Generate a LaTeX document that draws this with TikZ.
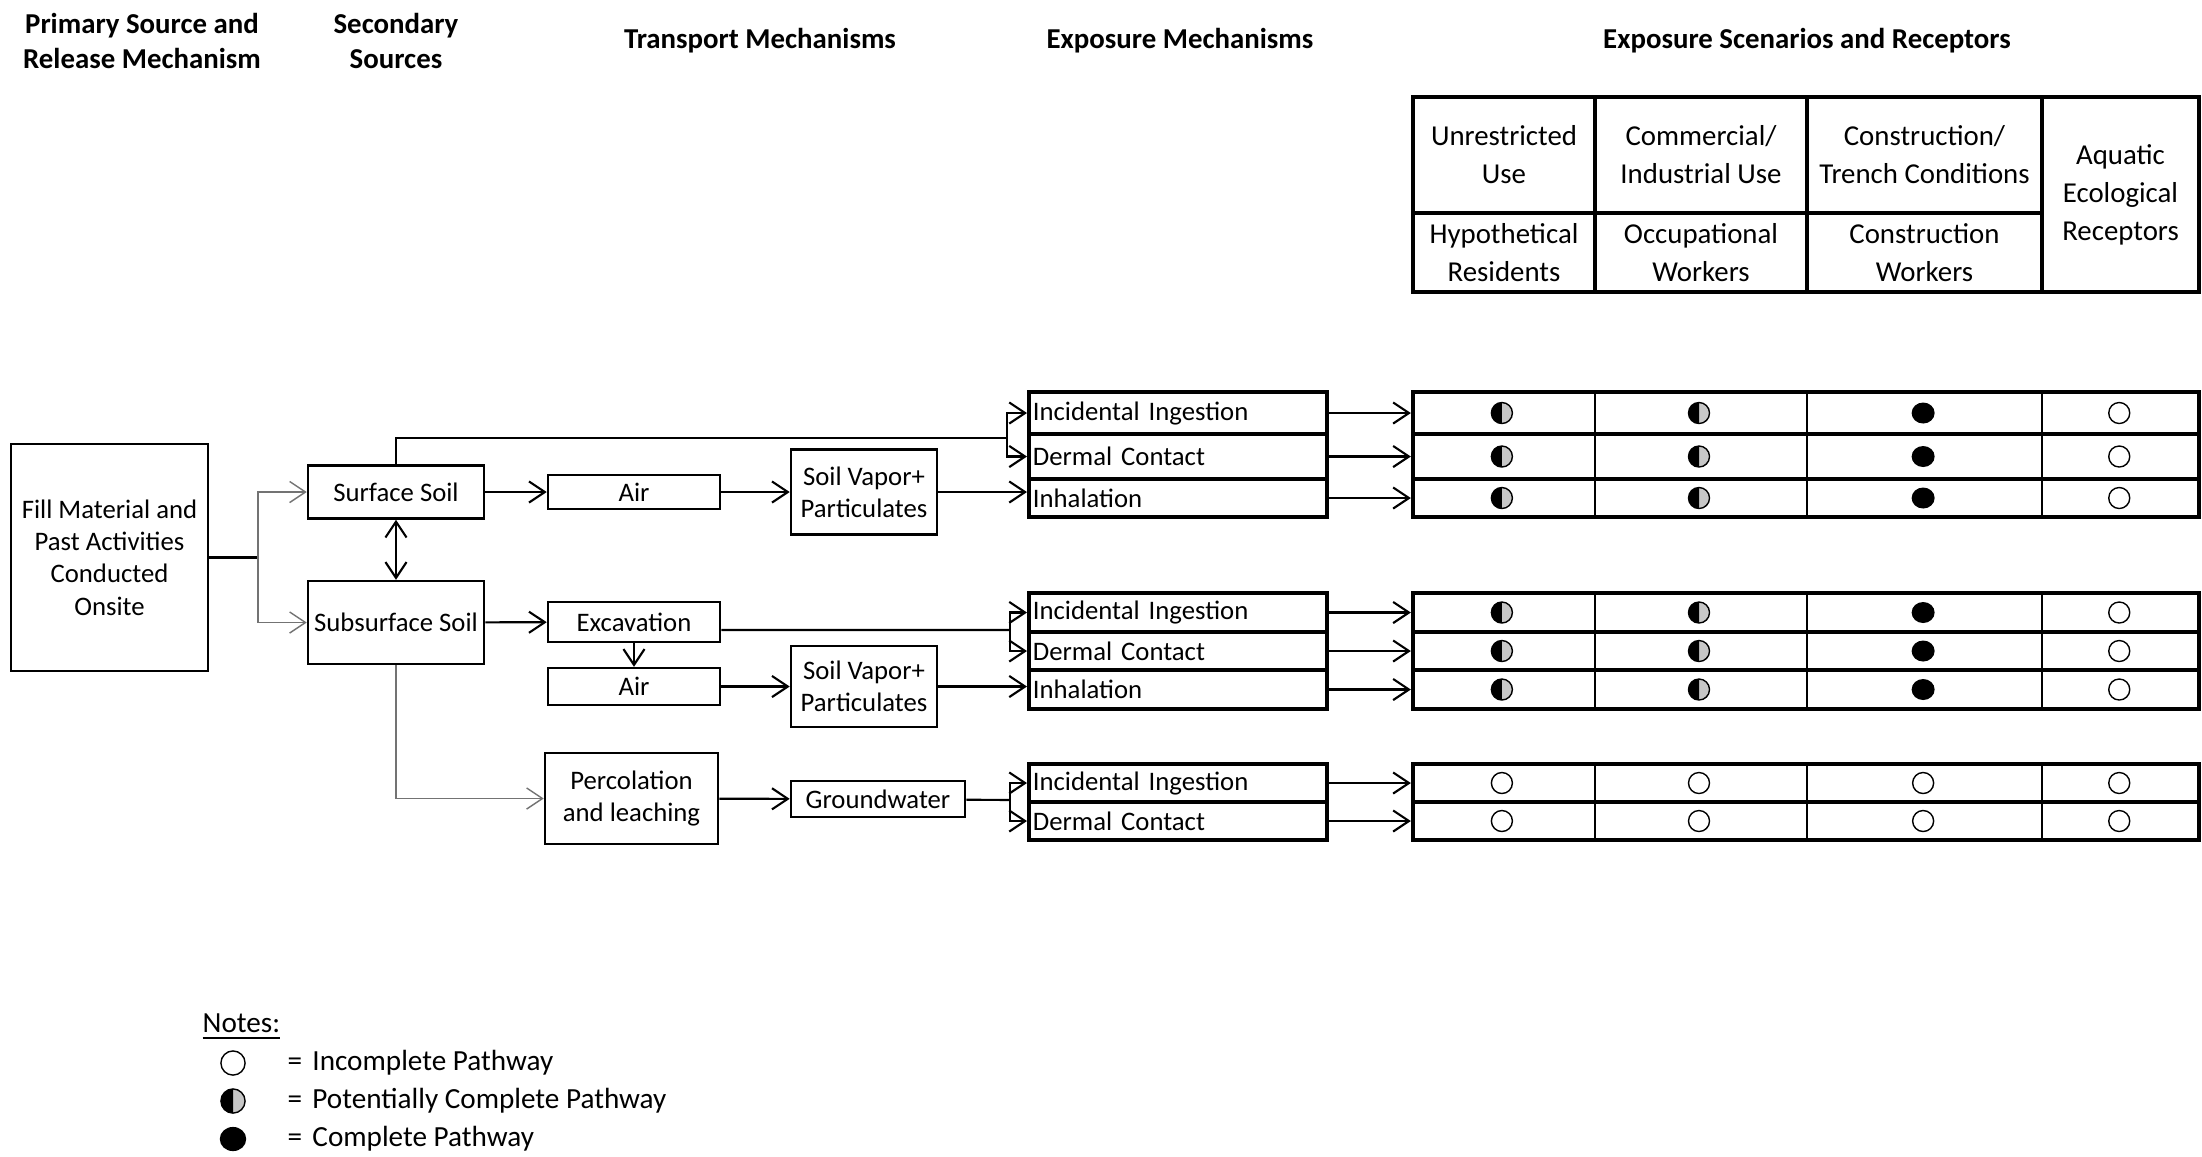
\documentclass[tikz,border=0pt]{standalone}
\usepackage{fontspec}
\setmainfont{Carlito}
\usetikzlibrary{arrows.meta}

\tikzset{
    opendot/.pic={
        \draw[line width=0.4pt, fill=white] (0,0) circle[radius=0.105cm];
    },
    fulldot/.pic={
        \fill[black] (0,0) circle[x radius=0.115cm, y radius=0.105cm];
    },
    halfdot/.pic={
        \fill[black!22] (0,0) circle[radius=0.105cm];
        \fill[black] (0pt,0.105cm) arc[start angle=90, end angle=270, radius=0.105cm] -- cycle;
        \draw[line width=0.4pt] (0,0) circle[radius=0.105cm];
    }
}

\begin{document}
\begin{tikzpicture}[
    x=0.01cm, y=-0.01cm,
    font=\fontsize{7.6}{9.2}\selectfont,
    box/.style={
        rectangle,
        draw=black,
        line width=0.7pt,
        align=center,
        inner sep=1pt
    },
    expbox/.style={
        rectangle,
        draw=black,
        line width=1.1pt,
        text width=2.9cm,
        align=left,
        inner xsep=0.04cm,
        inner ysep=0pt
    },
    rowbox/.style={
        rectangle,
        draw=black,
        line width=1.1pt,
        minimum width=7.86cm
    },
    cell/.style={
        rectangle,
        draw=black,
        line width=1.1pt,
        align=center,
        inner sep=0pt,
        font=\fontsize{8.2}{10.8}\selectfont
    },
    heading/.style={
        align=center,
        font=\fontsize{8.2}{10}\selectfont\bfseries
    },
    note/.style={
        anchor=west,
        inner sep=0pt,
        font=\fontsize{8.3}{10}\selectfont
    },
    link/.style={
        -{Straight Barb[length=4.5pt, width=6pt]},
        draw=black,
        line width=0.6pt
    },
    feed/.style={
        link,
        draw=black!55,
        line width=0.4pt
    },
    both/.style={
        {Straight Barb[length=4.5pt, width=6pt]}-{Straight Barb[length=4.5pt, width=6pt]},
        draw=black,
        line width=0.6pt
    },
    plain/.style={
        draw=black,
        line width=0.6pt
    }
]
    \useasboundingbox (0,0) rectangle (2202,1156);

    % column headings
    \node (hdprim) [heading] at (142,41) {Primary Source and\\Release Mechanism};
    \node (hdsec) [heading] at (396,41) {Secondary\\Sources};
    \node (hdtrans) [heading] at (760,41) {Transport Mechanisms};
    \node (hdexp) [heading] at (1180,41) {Exposure Mechanisms};
    \node (hdscen) [heading] at (1807,41) {Exposure Scenarios and Receptors};

    % receptor table head
    \node (unres) [cell, minimum width=1.82cm, minimum height=1.16cm] at (1504,155) {Unrestricted\\Use};
    \node (comm) [cell, minimum width=2.12cm, minimum height=1.16cm] at (1701,155) {Commercial/\\Industrial Use};
    \node (trench) [cell, minimum width=2.35cm, minimum height=1.16cm] at (1924.5,155) {Construction/\\Trench Conditions};
    \node (resid) [cell, minimum width=1.82cm, minimum height=0.79cm] at (1504,252.5) {Hypothetical\\Residents};
    \node (occup) [cell, minimum width=2.12cm, minimum height=0.79cm] at (1701,252.5) {Occupational\\Workers};
    \node (cworker) [cell, minimum width=2.35cm, minimum height=0.79cm] at (1924.5,252.5) {Construction\\Workers};
    \node (aquatic) [cell, minimum width=1.57cm, minimum height=1.95cm] at (2120.5,194.5) {Aquatic\\Ecological\\Receptors};

    % sources
    \node (fill) [box, minimum width=1.97cm, minimum height=2.27cm] at (109.5,557.5) {Fill Material and\\Past Activities\\Conducted\\Onsite};
    \node (surf) [box, minimum width=1.76cm, minimum height=0.53cm] at (396,492) {Surface Soil};
    \node (subsurf) [box, minimum width=1.76cm, minimum height=0.83cm] at (396,622.5) {Subsurface Soil};

    % transport
    \node (air1) [box, minimum width=1.72cm, minimum height=0.34cm] at (634,492) {Air};
    \node (vapor1) [box, minimum width=1.46cm, minimum height=0.85cm] at (864,492) {Soil Vapor+\\Particulates};
    \node (excav) [box, minimum width=1.72cm, minimum height=0.40cm] at (634,622) {Excavation};
    \node (air2) [box, minimum width=1.72cm, minimum height=0.37cm] at (634,686.5) {Air};
    \node (vapor2) [box, minimum width=1.46cm, minimum height=0.81cm] at (864,686.5) {Soil Vapor+\\Particulates};
    \node (perc) [box, minimum width=1.73cm, minimum height=0.91cm] at (631.5,798.5) {Percolation\\and leaching};
    \node (ground) [box, minimum width=1.74cm, minimum height=0.36cm] at (878,799) {Groundwater};

    % exposure routes and receptor rows
    \foreach \n/\y/\h/\t in {
        ing1/413/0.42/Incidental Ingestion, derm1/456.5/0.45/Dermal Contact, inh1/498/0.38/Inhalation,
        ing2/612.5/0.39/Incidental Ingestion, derm2/651/0.38/Dermal Contact, inh2/689.5/0.39/Inhalation,
        ing3/783/0.38/Incidental Ingestion, derm3/821/0.38/Dermal Contact} {
        \node (\n) [expbox, minimum height=\h cm] at (1178,\y) {\t};
        \node (r\n) [rowbox, minimum height=\h cm] at (1806,\y) {};
        \draw [link] (\n) -- (r\n);
    }
    \foreach \a/\b in {392/517, 593/709, 764/840}
        \foreach \x in {1595, 1807, 2042}
            \draw [line width=0.8pt] (\x,\a) -- (\x,\b);

    % pathway status
    \foreach \r in {ring1, rderm1, rinh1, ring2, rderm2, rinh2} {
        \pic at ([xshift=0.91cm]\r.west) {halfdot};
        \pic at ([xshift=2.88cm]\r.west) {halfdot};
        \pic at ([xshift=5.12cm]\r.west) {fulldot};
        \pic at ([xshift=7.08cm]\r.west) {opendot};
    }
    \foreach \r in {ring3, rderm3}
        \foreach \dx in {0.91, 2.88, 5.12, 7.08}
            \pic at ([xshift=\dx cm]\r.west) {opendot};

    % connectors
    \coordinate (split) at (258,557.5);
    \coordinate (j1) at (1007,438);
    \coordinate (j2) at (1010,630);
    \coordinate (j3) at (1010,800);

    \draw [plain] (fill) -- (split);
    \draw [feed] (split) |- (surf);
    \draw [feed] (split) |- (subsurf);
    \draw [both] (surf) -- (subsurf);

    \draw [plain] (surf.north) |- (j1);
    \draw [link] (j1) |- (ing1);
    \draw [link] (j1) |- (derm1);
    \draw [link] (surf) -- (air1);
    \draw [link] (air1) -- (vapor1);
    \draw [link] (vapor1) -- (vapor1 -| inh1.west);

    \draw [link] (subsurf) -- (excav);
    \draw [link] (excav) -- (air2);
    \draw [plain] ([yshift=-0.08cm]excav.east) -- (j2);
    \draw [link] (j2) |- (ing2);
    \draw [link] (j2) |- (derm2);
    \draw [link] (air2) -- (vapor2);
    \draw [link] (vapor2) -- (vapor2 -| inh2.west);

    \draw [feed] (subsurf.south) |- (perc);
    \draw [link] (perc) -- (ground);
    \draw [plain] (ground) -- (j3);
    \draw [link] (j3) |- (ing3);
    \draw [link] (j3) |- (derm3);

    % legend
    \node (notes) [note] at (202,1027) {\underline{Notes:}};
    \pic [scale=1.15] at (233,1063) {opendot};
    \pic [scale=1.15] at (233,1101) {halfdot};
    \pic [scale=1.15] at (233,1139) {fulldot};
    \node (lgopen) [note] at (287,1063) {=\hspace{0.35em}Incomplete Pathway};
    \node (lghalf) [note] at (287,1101) {=\hspace{0.35em}Potentially Complete Pathway};
    \node (lgfull) [note] at (287,1139) {=\hspace{0.35em}Complete Pathway};

\end{tikzpicture}
\end{document}
